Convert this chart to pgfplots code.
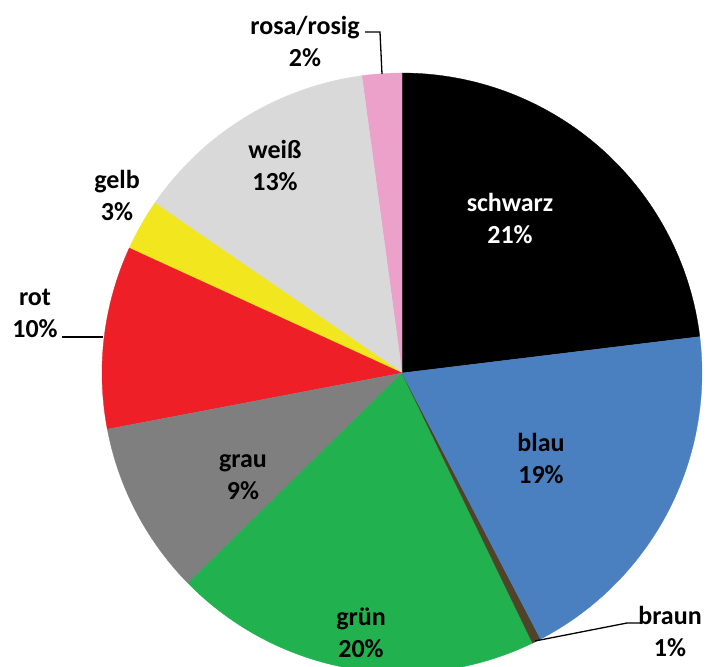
\documentclass[border=0pt]{standalone}
\usepackage{pgfplots}
\pgfplotsset{compat=1.18}
\usepackage{fontspec}
\setmainfont{Carlito}
\definecolor{cschwarz}{HTML}{000000}
\definecolor{cblau}{HTML}{4A7FC0}
\definecolor{cbraun}{HTML}{4F4329}
\definecolor{cgruen}{HTML}{21B14F}
\definecolor{cgrau}{HTML}{7F7F7F}
\definecolor{crot}{HTML}{EE1F26}
\definecolor{cgelb}{HTML}{F2E61E}
\definecolor{cweiss}{HTML}{D9D9D9}
\definecolor{crosa}{HTML}{EBA1C9}
\tikzset{lbl/.style={font=\fontsize{26}{32}\selectfont\bfseries, align=center, inner sep=0pt}}
\begin{document}
\begin{tikzpicture}
\begin{axis}[
  width=710pt, height=667pt, scale only axis,
  xmin=0, xmax=710, ymin=0, ymax=667, y dir=reverse,
  axis line style={draw=none}, ticks=none, clip=true,
]
% slices: start and end angles (degrees)
\addplot[fill=cschwarz, draw=cschwarz, line width=0.3pt, domain=6.96:90, samples=80, variable=\t] ({402+300*cos(t)},{373-300*sin(t)}) -- (axis cs:402,373) -- cycle;
\addplot[fill=crosa, draw=crosa, line width=0.3pt, domain=90:97.7, samples=10, variable=\t] ({402+300*cos(t)},{373-300*sin(t)}) -- (axis cs:402,373) -- cycle;
\addplot[fill=cweiss, draw=cweiss, line width=0.3pt, domain=97.7:145.5, samples=50, variable=\t] ({402+300*cos(t)},{373-300*sin(t)}) -- (axis cs:402,373) -- cycle;
\addplot[fill=cgelb, draw=cgelb, line width=0.3pt, domain=145.5:155.4, samples=12, variable=\t] ({402+300*cos(t)},{373-300*sin(t)}) -- (axis cs:402,373) -- cycle;
\addplot[fill=crot, draw=crot, line width=0.3pt, domain=155.4:190.8, samples=40, variable=\t] ({402+300*cos(t)},{373-300*sin(t)}) -- (axis cs:402,373) -- cycle;
\addplot[fill=cgrau, draw=cgrau, line width=0.3pt, domain=190.8:224.5, samples=40, variable=\t] ({402+300*cos(t)},{373-300*sin(t)}) -- (axis cs:402,373) -- cycle;
\addplot[fill=cgruen, draw=cgruen, line width=0.3pt, domain=224.5:295.8, samples=70, variable=\t] ({402+300*cos(t)},{373-300*sin(t)}) -- (axis cs:402,373) -- cycle;
\addplot[fill=cbraun, draw=cbraun, line width=0.3pt, domain=295.8:297.5, samples=4, variable=\t] ({402+300*cos(t)},{373-300*sin(t)}) -- (axis cs:402,373) -- cycle;
\addplot[fill=cblau, draw=cblau, line width=0.3pt, domain=297.5:366.96, samples=70, variable=\t] ({402+300*cos(t)},{373-300*sin(t)}) -- (axis cs:402,373) -- cycle;
% leader lines
\addplot[black, line width=1.3pt] coordinates {(365,32) (380,32) (382,74)};
\addplot[black, line width=1.3pt] coordinates {(535,641) (627,623) (641,623)};
\addplot[black, line width=1.3pt] coordinates {(62,337) (103,337)};
% labels
\node[lbl, text=white] at (axis cs:510,218) {schwarz\\21\%};
\node[lbl] at (axis cs:541,458) {blau\\19\%};
\node[lbl] at (axis cs:670,631) {braun\\1\%};
\node[lbl] at (axis cs:361,633) {grün\\20\%};
\node[lbl] at (axis cs:243,477) {grau\\9\%};
\node[lbl] at (axis cs:35,313) {rot\\10\%};
\node[lbl] at (axis cs:117,195) {gelb\\3\%};
\node[lbl] at (axis cs:275,165) {weiß\\13\%};
\node[lbl] at (axis cs:305,41) {rosa/rosig\\2\%};
\end{axis}
\end{tikzpicture}
\end{document}
